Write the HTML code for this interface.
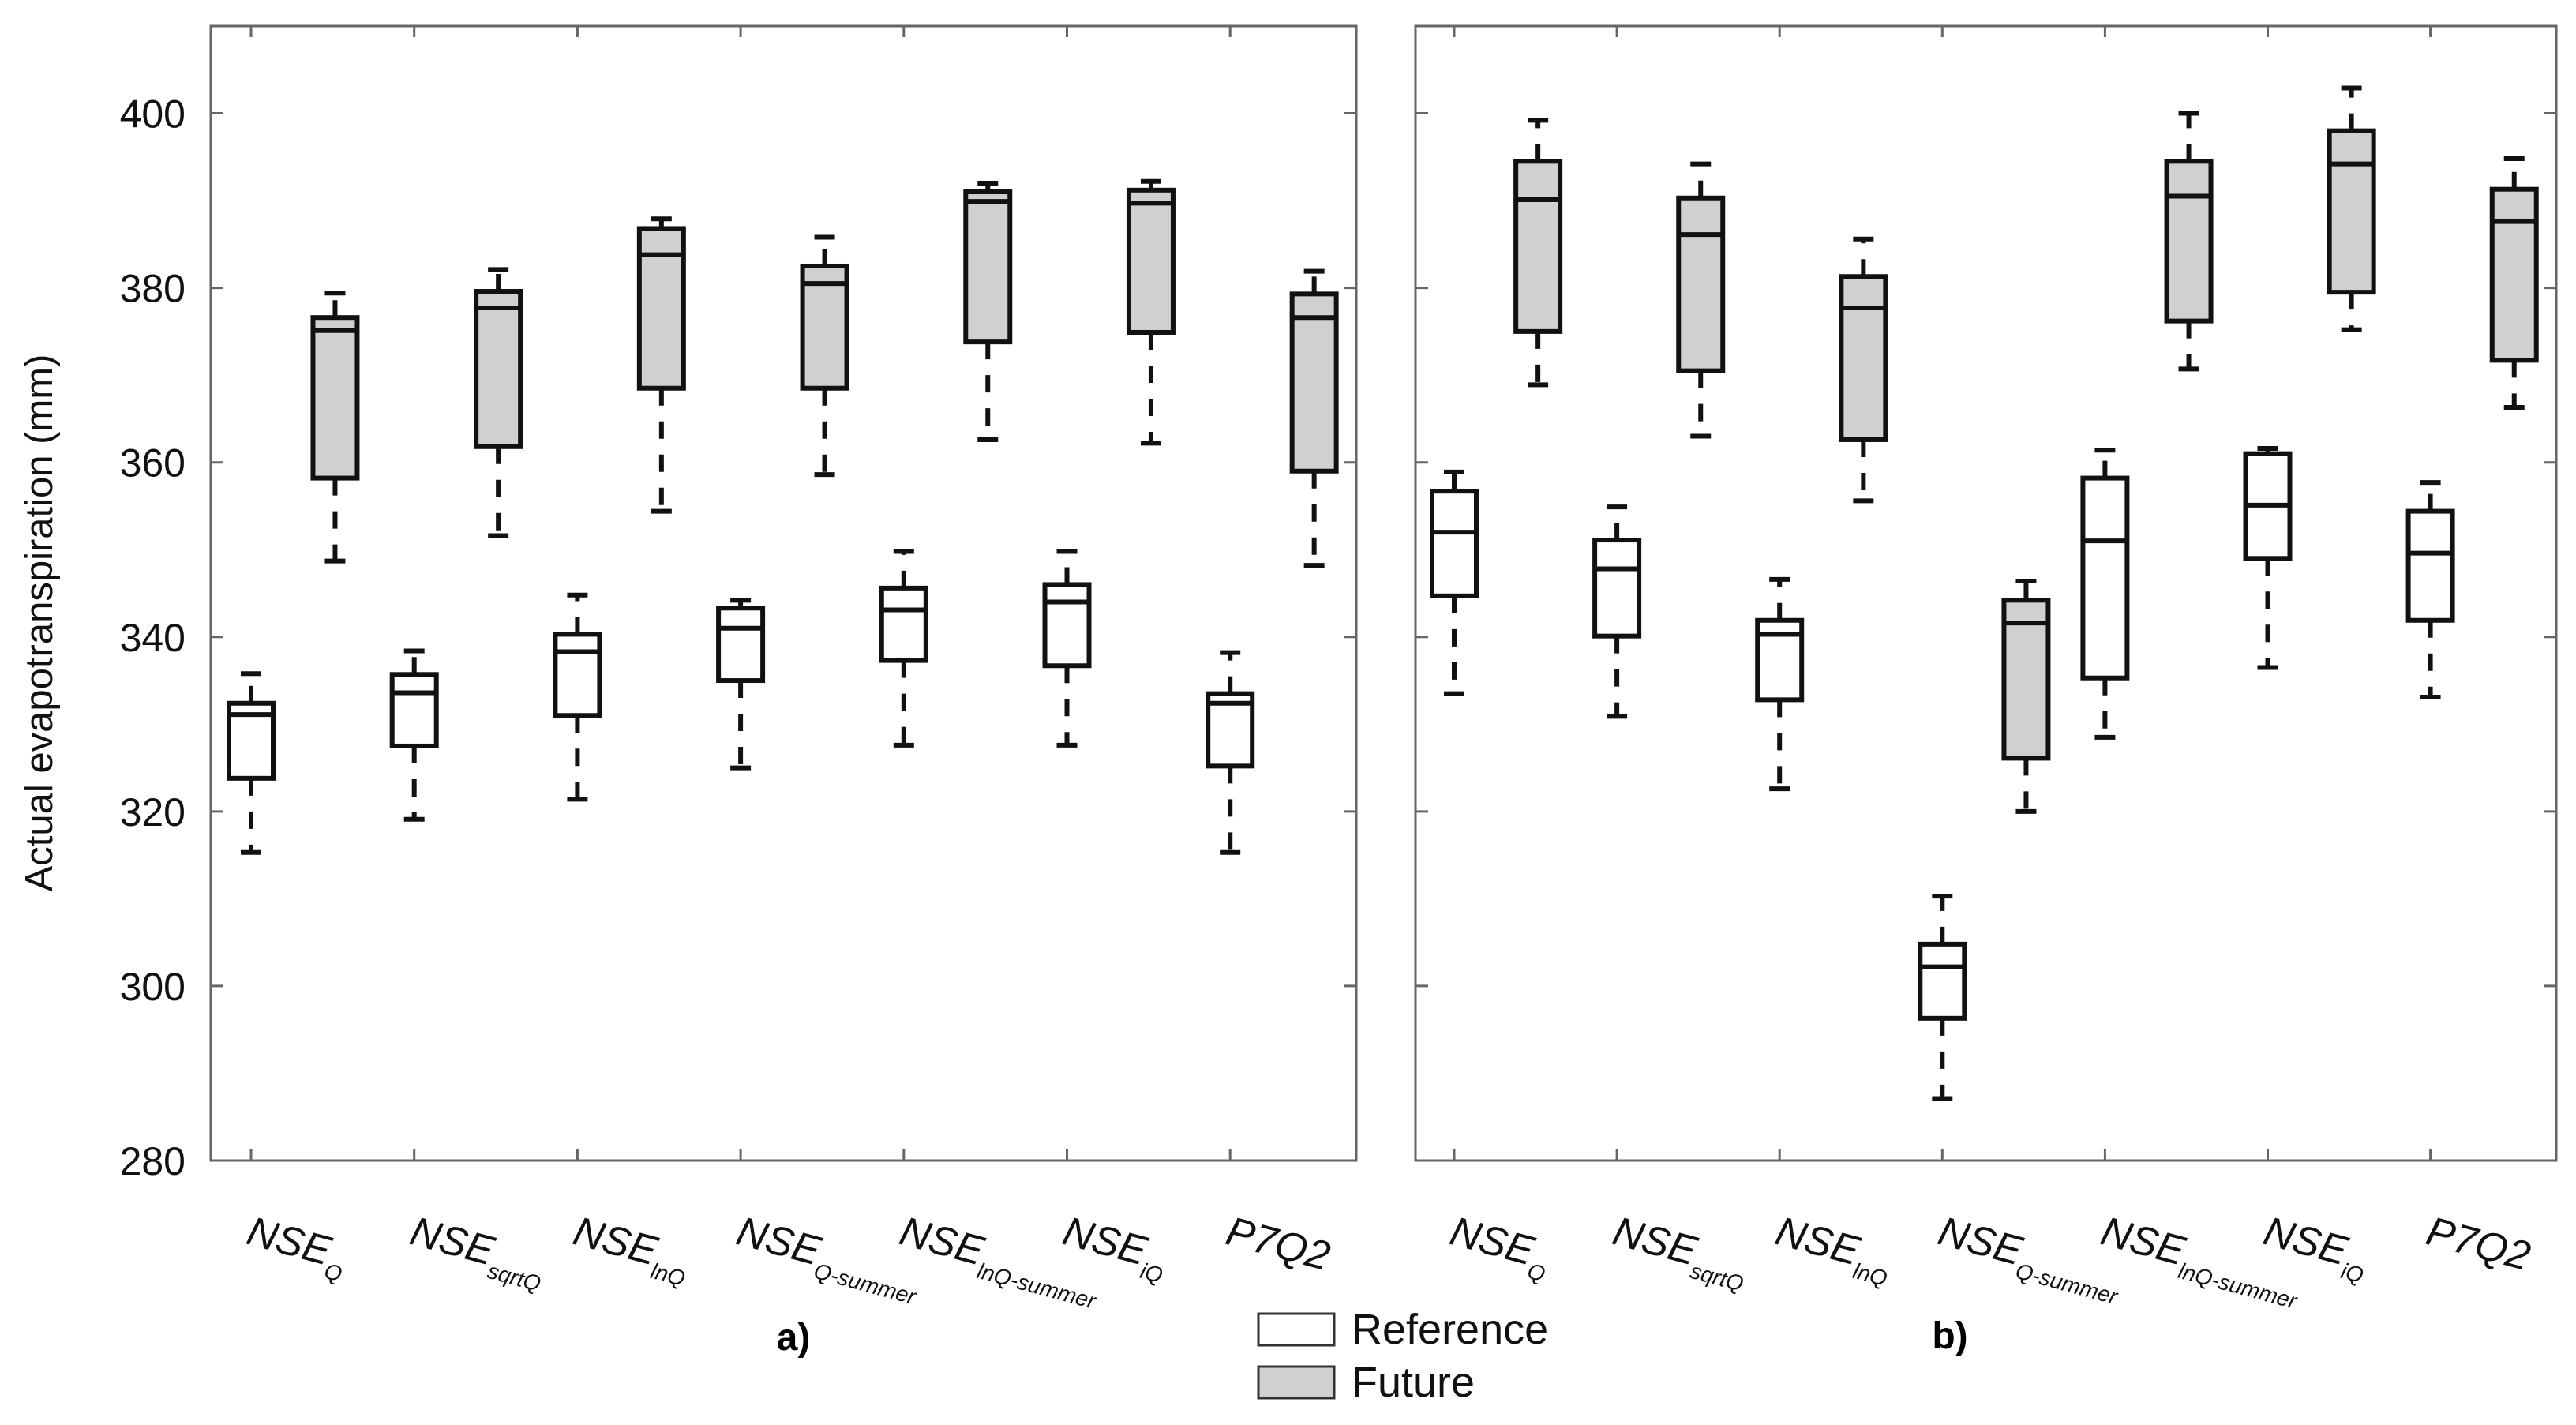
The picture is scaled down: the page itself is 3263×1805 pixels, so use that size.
<!DOCTYPE html>
<html><head><meta charset="utf-8"><style>
html,body{margin:0;padding:0;background:#fff;}
svg{display:block;font-family:"Liberation Sans",Arial,sans-serif;}
</style></head><body>
<svg id="chart" width="3263" height="1805" viewBox="0 0 3263 1805" xmlns="http://www.w3.org/2000/svg">
<g id="layer"></g>
<text transform="translate(66,789) rotate(-90)" text-anchor="middle" font-size="49" fill="#111">Actual evapotranspiration (mm)</text>
<text x="1005" y="1710" font-size="48" font-weight="bold" text-anchor="middle">a)</text>
<text x="2470" y="1708" font-size="48" font-weight="bold" text-anchor="middle">b)</text>
<g>
<rect x="1594" y="1664" width="96" height="40" fill="#fff" stroke="#333" stroke-width="3"/>
<text x="1712" y="1702" font-size="54" fill="#111">Reference</text>
<rect x="1594" y="1731" width="96" height="40" fill="#d0d0d0" stroke="#333" stroke-width="3"/>
<text x="1712" y="1769" font-size="54" fill="#111">Future</text>
</g>
</svg>
<script>
const categories = ["Q","sqrtQ","lnQ","Q-summer","lnQ-summer","iQ","P7Q2"];
const yTicks = [280,300,320,340,360,380,400];
// [whiskerLow, q1, median, q3, whiskerHigh]
const aReference = [[315.3,323.8,331.1,332.4,335.8],[319.1,327.5,333.6,335.7,338.4],[321.4,331.0,338.3,340.3,344.8],[325.0,335.0,341.0,343.3,344.2],[327.6,337.3,343.1,345.6,349.8],[327.6,336.7,344.0,346.0,349.8],[315.3,325.2,332.4,333.5,338.2]];
const aFuture = [[348.7,358.2,375.1,376.6,379.4],[351.6,361.8,377.7,379.6,382.1],[354.4,368.5,383.8,386.8,387.9],[358.6,368.5,380.5,382.5,385.8],[362.6,373.8,389.9,391.0,392.0],[362.2,374.9,389.7,391.2,392.2],[348.2,359.0,376.6,379.3,381.9]];
const bReference = [[333.5,344.7,352.0,356.7,358.9],[330.9,340.1,347.8,351.1,354.9],[322.6,332.8,340.3,341.9,346.6],[287.1,296.3,302.2,304.8,310.3],[328.5,335.3,351.0,358.2,361.4],[336.5,349.0,355.1,361.0,361.6],[333.1,341.9,349.6,354.4,357.7]];
const bFuture = [[368.9,375.0,390.1,394.5,399.2],[363.0,370.5,386.1,390.3,394.2],[355.6,362.6,377.7,381.3,385.6],[320.0,326.1,341.6,344.2,346.4],[370.7,376.2,390.5,394.5,400.0],[375.2,379.5,394.2,398.0,402.9],[366.3,371.7,387.6,391.3,394.8]];

const NS = "http://www.w3.org/2000/svg";
const layer = document.getElementById("layer");
const top0 = 33, bot = 1470, yMin = 280, yMax = 410;
function yScale(v){ return bot - (v - yMin) / (yMax - yMin) * (bot - top0); }
function mk(tag, attrs, parent){ const e = document.createElementNS(NS, tag); for (const k in attrs) e.setAttribute(k, attrs[k]); (parent||layer).appendChild(e); return e; }

function panel(name, x0, x1, firstTick, step, refData, futData, showLabels){
  const g = mk("g", {});
  
  
  const xScale = i => firstTick + i * step;
  const frame = mk("rect", {x:x0, y:top0, width:x1-x0, height:bot-top0, fill:"none", stroke:"#666", "stroke-width":3}, g);
  
  
  yTicks.forEach(t => {
    const y = yScale(t);
    const tk = mk("path", {d:`M${x0},${y}h16M${x1},${y}h-16`, stroke:"#666", "stroke-width":3}, g);
    
    
    if (showLabels){
      const lb = mk("text", {x:x0-32, y:y+18, "text-anchor":"end", "font-size":50, fill:"#111"}, g);
      lb.textContent = t;
      
      
    }
  });
  categories.forEach((c, i) => {
    const x = xScale(i);
    const tk = mk("path", {d:`M${x},${bot}v-14M${x},${top0}v14`, stroke:"#666", "stroke-width":3}, g);
    
    
    const lb = mk("text", {transform:`translate(${x-8},${1575}) rotate(15)`, "font-size":52, "font-style":"italic", fill:"#111"}, g);
    
    
    if (c === "P7Q2"){ lb.textContent = "P7Q2"; }
    else {
      const t1 = mk("tspan", {}, lb); t1.textContent = "NSE";
      const t2 = mk("tspan", {dy:16, "font-size":28}, lb); t2.textContent = c;
    }
    drawBox(g, x, refData[i], "#fff", "reference-box-" + c);
    drawBox(g, x + step*0.515, futData[i], "#d0d0d0", "future-box-" + c);
  });
}
function drawBox(g, cx, d, fill, name){
  const w = 56;
  const bg = mk("g", {}, g);
  
  
  const [lo, q1, med, q3, hi] = d.map(yScale);
  mk("path", {d:`M${cx},${q3}V${hi}M${cx},${q1}V${lo}`, stroke:"#111", "stroke-width":6, "stroke-dasharray":"22,20"}, bg);
  mk("path", {d:`M${cx-13},${hi}h26M${cx-13},${lo}h26`, stroke:"#111", "stroke-width":6}, bg);
  mk("rect", {x:cx-w/2, y:q3, width:w, height:q1-q3, fill:fill, stroke:"#111", "stroke-width":6}, bg);
  mk("line", {x1:cx-w/2, x2:cx+w/2, y1:med, y2:med, stroke:"#111", "stroke-width":6}, bg);
}
panel("panel-a", 267, 1718, 318, 206.7, aReference, aFuture, true);
panel("panel-b", 1793, 3238, 1842, 206.1, bReference, bFuture, false);
</script>
</body></html>
